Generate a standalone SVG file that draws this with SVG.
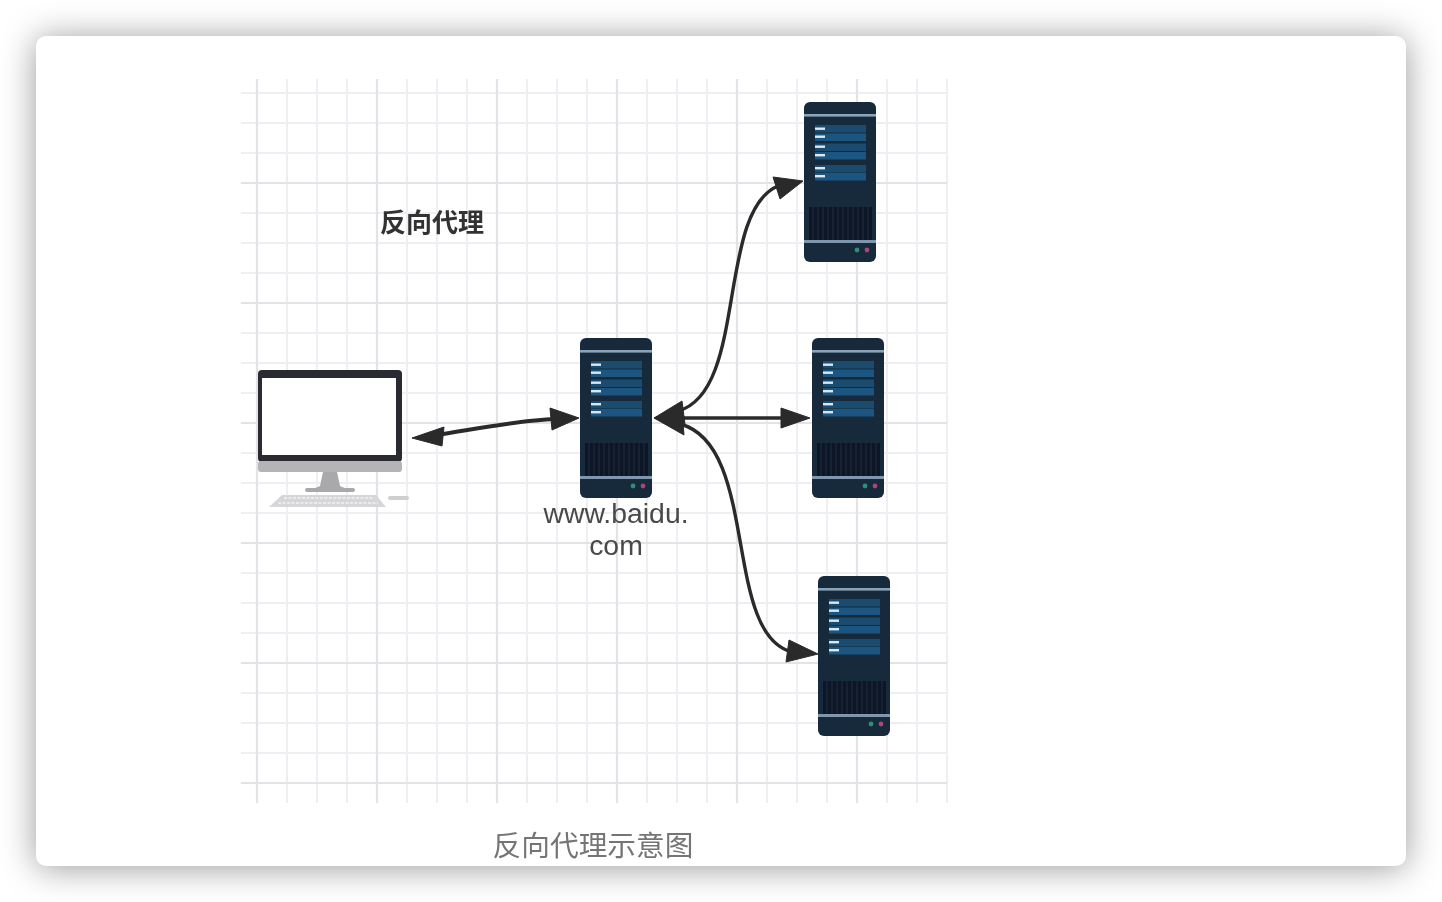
<svg xmlns="http://www.w3.org/2000/svg" xmlns:xlink="http://www.w3.org/1999/xlink" width="1442" height="902" viewBox="0 0 1442 902">
<style>
.g{stroke:#f0eef2;stroke-width:2;fill:none}
.m{stroke:#e5e2e7;stroke-width:2.2;fill:none}
.c{stroke:#2a2a2a;stroke-width:3.4;fill:none}
.h{fill:#2a2a2a;stroke:#2a2a2a;stroke-width:1;stroke-linejoin:round}
.cjk{font-family:"Noto Sans CJK SC","Liberation Sans",sans-serif}
</style>
<defs>
<filter id="soft" x="-10%" y="-10%" width="120%" height="120%"><feGaussianBlur stdDeviation="0.7"/></filter>
<filter id="txt" x="-10%" y="-10%" width="120%" height="120%"><feGaussianBlur stdDeviation="0.4"/></filter>
<filter id="sh" x="-10%" y="-10%" width="120%" height="120%"><feGaussianBlur stdDeviation="17"/></filter>
<g id="srv" filter="url(#soft)">
<rect width="72" height="160" rx="6" fill="#15293a"/>
<rect x="0" y="12" width="72" height="2.6" fill="#8ba3b8"/>
<rect x="11" y="23" width="51" height="7.5" fill="#1c4c70"/>
<rect x="11" y="31.5" width="51" height="7.5" fill="#1f5680"/>
<rect x="11" y="41.5" width="51" height="7.5" fill="#1c4c70"/>
<rect x="11" y="50" width="51" height="7.5" fill="#1f5680"/>
<rect x="11" y="63" width="51" height="7.5" fill="#1c4c70"/>
<rect x="11" y="71" width="51" height="7.5" fill="#1f5680"/>
<g fill="#d8e8f4"><rect x="11" y="25.5" width="10" height="2.4"/><rect x="11" y="33.5" width="10" height="2.4"/><rect x="11" y="43.5" width="10" height="2.4"/><rect x="11" y="52" width="10" height="2.4"/><rect x="11" y="65" width="10" height="2.4"/><rect x="11" y="73" width="10" height="2.4"/></g>
<rect x="5" y="105" width="63" height="33" fill="#0b1825"/>
<path d="M9 105v33M14 105v33M19 105v33M24 105v33M29 105v33M34 105v33M39 105v33M44 105v33M49 105v33M54 105v33M59 105v33M64 105v33" stroke="#1a2c3d" stroke-width="1"/>
<rect x="0" y="138" width="72" height="3" fill="#7f97ac"/>
<circle cx="53" cy="148" r="2.4" fill="#2f8f78"/>
<circle cx="63" cy="148" r="2.4" fill="#a8467a"/>
</g>
</defs>

<rect x="36" y="38" width="1370" height="830" rx="10" fill="#000" fill-opacity="0.4" filter="url(#sh)"/>
<rect x="36" y="36" width="1370" height="830" rx="10" fill="#fff"/>

<g id="grid" filter="url(#soft)">
<path class="g" d="M287 79V803M317 79V803M347 79V803M407 79V803M437 79V803M467 79V803M527 79V803M557 79V803M587 79V803M647 79V803M677 79V803M707 79V803M767 79V803M797 79V803M827 79V803M887 79V803M917 79V803M947 79V803"/>
<path class="g" d="M241 93H947M241 123H947M241 153H947M241 213H947M241 243H947M241 273H947M241 333H947M241 363H947M241 393H947M241 453H947M241 483H947M241 513H947M241 573H947M241 603H947M241 633H947M241 693H947M241 723H947M241 753H947"/>
<path class="m" d="M257 79V803M377 79V803M497 79V803M617 79V803M737 79V803M857 79V803"/>
<path class="m" d="M241 183H947M241 303H947M241 423H947M241 543H947M241 663H947M241 783H947"/>
</g>

<text id="title" class="cjk" x="432" y="232" font-size="26" font-weight="700" fill="#333" text-anchor="middle" filter="url(#txt)">反向代理</text>

<g id="computer" filter="url(#soft)">
<rect x="258" y="370" width="144" height="92" rx="4" fill="#2b2a33"/>
<rect x="258" y="461" width="144" height="11" rx="3" fill="#b4b3b6"/>
<rect x="262" y="378" width="134" height="77" fill="#fff"/>
<path d="M323 472h14l3 14 7 3h-34l7-3z" fill="#a9a8ab"/>
<rect x="305" y="488" width="50" height="4" rx="2" fill="#a9a8ab"/>
<path d="M282 495h94l10 12h-117z" fill="#d6d5d8"/>
<path d="M284 498h90M278 503h100" stroke="#f2f2f2" stroke-width="1.4" stroke-dasharray="3 1.5"/>
<rect x="388" y="496" width="21" height="4" rx="2" fill="#cfcfcf"/>
</g>

<g id="server-proxy"><use xlink:href="#srv" href="#srv" x="580" y="338"/>
<text font-family="Liberation Sans,Arial,sans-serif" font-size="28.4" fill="#4a4a4a" text-anchor="middle" filter="url(#txt)"><tspan x="616" y="523">www.baidu.</tspan><tspan x="616" y="555">com</tspan></text></g>
<g id="server-top"><use xlink:href="#srv" href="#srv" x="804" y="102"/></g>
<g id="server-middle"><use xlink:href="#srv" href="#srv" x="812" y="338"/></g>
<g id="server-bottom"><use xlink:href="#srv" href="#srv" x="818" y="576"/></g>

<g id="connectors">
<path class="c" style="stroke-width:4" d="M436 435C470 430 520 420 555 419"/>
<path class="h" d="M412 438L444 427L442 446Z"/>
<path class="h" d="M579 418L550 408L552 430Z"/>
<path class="c" d="M678 411C748 392 716 212 778 186"/>
<path class="h" d="M803 181L773 177L780 199Z"/>
<path class="h" d="M654 418L682 401L685 424Z"/>
<path class="c" d="M680 418H785"/>
<path class="h" d="M810 418L781 408V428Z"/>
<path class="c" d="M680 424C760 445 722 634 792 652"/>
<path class="h" d="M818 654L789 640L786 662Z"/>
<path class="h" d="M654 418L682 411L684 435Z"/>
</g>

<text id="caption" class="cjk" x="593" y="856" font-size="28.7" fill="#757575" text-anchor="middle" filter="url(#txt)">反向代理示意图</text>
</svg>
